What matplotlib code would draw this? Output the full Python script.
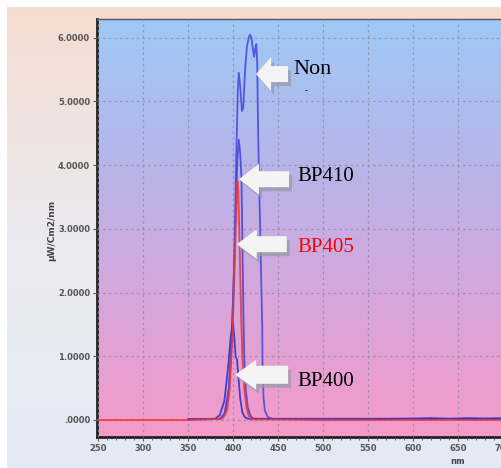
import matplotlib
matplotlib.use("Agg")
import matplotlib.pyplot as plt
import matplotlib.transforms as mtransforms
from matplotlib.patches import Polygon, Rectangle
from matplotlib.colors import LinearSegmentedColormap
import numpy as np

# --- spectrum data (nm, uW/cm2/nm) ---
non_nm = [350, 370, 385, 390, 395, 398, 401, 403, 405, 406, 407.5, 409.5, 411, 413, 415, 417,
          418.5, 420, 421.5, 423, 424.5, 425.5, 426.5, 427.5, 429, 430.5, 432, 432.5, 433.5,
          435, 438, 443, 500, 560, 600, 620, 640, 660, 680, 700, 720]
non_val = [0.01, 0.01, 0.02, 0.1, 0.5, 1.2, 2.5, 4.0, 5.2, 5.45, 5.25, 4.85, 4.9, 5.5, 5.85, 6.0,
           6.05, 6.0, 5.85, 5.7, 5.85, 5.9, 5.6, 4.5, 3.5, 2.5, 1.5, 0.8, 0.35,
           0.15, 0.05, 0.02, 0.02, 0.02, 0.02, 0.03, 0.015, 0.03, 0.02, 0.03, 0.02]

bp410_nm = [350, 385, 390, 394, 397, 400, 402.5, 404.5, 406, 407.5, 409, 410, 411, 412, 414,
            416, 419, 422, 500, 600, 700, 720]
bp410_val = [0.01, 0.02, 0.08, 0.3, 0.9, 2.0, 3.2, 4.1, 4.4, 4.2, 3.8, 2.8, 1.8, 1.0, 0.45,
             0.2, 0.07, 0.02, 0.01, 0.02, 0.02, 0.02]

bp405_nm = [248, 350, 388, 393, 396, 399, 401, 403, 404.5, 405.5, 407, 408.5, 410, 412, 414.5,
            417, 420, 500, 600, 720]
bp405_val = [0.0, 0.0, 0.02, 0.15, 0.5, 1.3, 2.2, 3.2, 3.75, 3.6, 2.7, 1.7, 1.0, 0.5, 0.2,
             0.07, 0.01, 0.0, 0.0, 0.0]

bp400_nm = [350, 380, 385, 390, 394, 397, 399.5, 401, 402.5, 404, 405.5, 407.5, 410, 413,
            416, 500, 600, 700, 720]
bp400_val = [0.01, 0.02, 0.08, 0.3, 0.8, 1.3, 1.55, 1.3, 1.0, 0.95, 0.7, 0.35, 0.12, 0.04,
             0.02, 0.01, 0.02, 0.02, 0.02]

x_ticks = [250, 300, 350, 400, 450, 500, 550, 600, 650, 700]
y_ticks = [0, 1, 2, 3, 4, 5, 6]
y_tick_labels = ['.0000', '1.0000', '2.0000', '3.0000', '4.0000', '5.0000', '6.0000']

# label, arrow tip (nm, value), text position (nm, value), colour, arrow shape, font size
callouts = [
    ('Non',   425.2, 5.43, 466.3, 5.50, 'black', (32, 15, 34, 16), 16),
    ('BP410', 406.3, 3.78, 470.7, 3.82, 'black', (50, 20, 31, 16), 15),
    ('BP405', 403.8, 2.76, 470.7, 2.71, 'red',   (50, 20, 30, 16), 15),
    ('BP400', 402.0, 0.71, 470.7, 0.60, 'black', (53, 21, 30, 18), 15),
]

W, H = 502, 468
fig = plt.figure(figsize=(W / 100, H / 100), dpi=100)

# figure background: peach at top fading to light blue-grey
bg = fig.add_axes([0, 0, 1, 1], zorder=-10)
bg_cmap = LinearSegmentedColormap.from_list('bg', ['#e3ebf6', '#ebe9ee', '#f6dcd0'])
bg.imshow(np.linspace(0, 1, 256).reshape(-1, 1), aspect='auto', cmap=bg_cmap,
          origin='lower', extent=[0, 1, 0, 1])
bg.set_xlim(0, 1)
bg.set_ylim(0, 1)
bg.axis('off')
bg.add_patch(Rectangle((0, 1 - 7 / H), 1, 7 / H, color='white', lw=0))
bg.add_patch(Rectangle((0, 0), 7 / W, 1, color='white', lw=0))

ax = fig.add_axes([97 / W, 31 / H, 424.4 / W, 418 / H])
xmin, xmax = 248.5, 720
ymin, ymax = -0.267, 6.295

plot_cmap = LinearSegmentedColormap.from_list('plot', ['#f59ac7', '#d6a6dc', '#b6b6ea', '#9ec9f6'])
ax.imshow(np.linspace(0, 1, 256).reshape(-1, 1), aspect='auto', cmap=plot_cmap,
          origin='lower', extent=[xmin, xmax, ymin, ymax], zorder=0)

ax.set_xlim(xmin, xmax)
ax.set_ylim(ymin, ymax)

ax.grid(True, color='#8c8aa0', linestyle=(0, (2, 2.5)), linewidth=0.9, alpha=0.75)
ax.set_axisbelow(False)
for gl in ax.get_xgridlines() + ax.get_ygridlines():
    gl.set_zorder(1)

ax.plot(non_nm, non_val, color='#4b4be0', lw=1.3, alpha=0.9, zorder=3)
ax.plot(bp410_nm, bp410_val, color='#4646dc', lw=1.3, alpha=0.9, zorder=3)
ax.plot(bp400_nm, bp400_val, color='#3434c8', lw=1.3, alpha=0.9, zorder=3)
ax.plot(bp405_nm, bp405_val, color='#e83a3a', lw=1.3, alpha=0.9, zorder=4)

# spines
for side in ('left', 'bottom'):
    ax.spines[side].set_color('#222222')
    ax.spines[side].set_linewidth(2.0)
ax.spines['top'].set_color('#555555')
ax.spines['top'].set_linewidth(1.0)
ax.spines['right'].set_visible(False)

ax.set_xticks(x_ticks)
ax.set_xticks(np.arange(260, 720, 10), minor=True)
ax.set_yticks(y_ticks)
ax.set_yticklabels(y_tick_labels)
ax.tick_params(axis='both', which='major', direction='out', length=3, width=0.8,
               color='#555555', labelsize=6, labelcolor='#555555', pad=2)
ax.tick_params(axis='x', which='minor', direction='out', length=2, width=0.6, color='#555555')
for lab in ax.get_xticklabels() + ax.get_yticklabels():
    lab.set_fontweight('bold')

fig.text(97 / W - 45 / W, 1 - 230 / H, 'μW/Cm2/nm', rotation=90, ha='center', va='center',
         fontsize=6.5, fontweight='bold', color='#444444')
fig.text(458 / W, 1 - 462 / H, 'nm', ha='center', va='center',
         fontsize=6, fontweight='bold', color='#444444')

# block arrows pointing left, drawn in pixel units anchored at data points
for label, tx, ty, lx, ly, col, shape, fs in callouts:
    L, hl, hw, bw = shape
    verts = np.array([[0, 0], [hl, hw / 2], [hl, bw / 2], [L, bw / 2],
                      [L, -bw / 2], [hl, -bw / 2], [hl, -hw / 2]])
    base = mtransforms.ScaledTranslation(tx, ty, ax.transData)
    shadow = Polygon(verts + [3, -4], closed=True, facecolor='#9c98aa', edgecolor='none',
                     alpha=0.75, transform=mtransforms.IdentityTransform() + base, zorder=5)
    arrow = Polygon(verts, closed=True, facecolor='#f4f4f4', edgecolor='none',
                    transform=mtransforms.IdentityTransform() + base, zorder=6)
    ax.add_patch(shadow)
    ax.add_patch(arrow)
    ax.text(lx, ly, label, ha='left', va='center', fontsize=fs, color=col,
            family='Liberation Serif', zorder=7)

ax.text(480.5, 5.17, '-', ha='center', va='center', fontsize=6, color='black', zorder=7)

fig.savefig('out.png', dpi=100)
